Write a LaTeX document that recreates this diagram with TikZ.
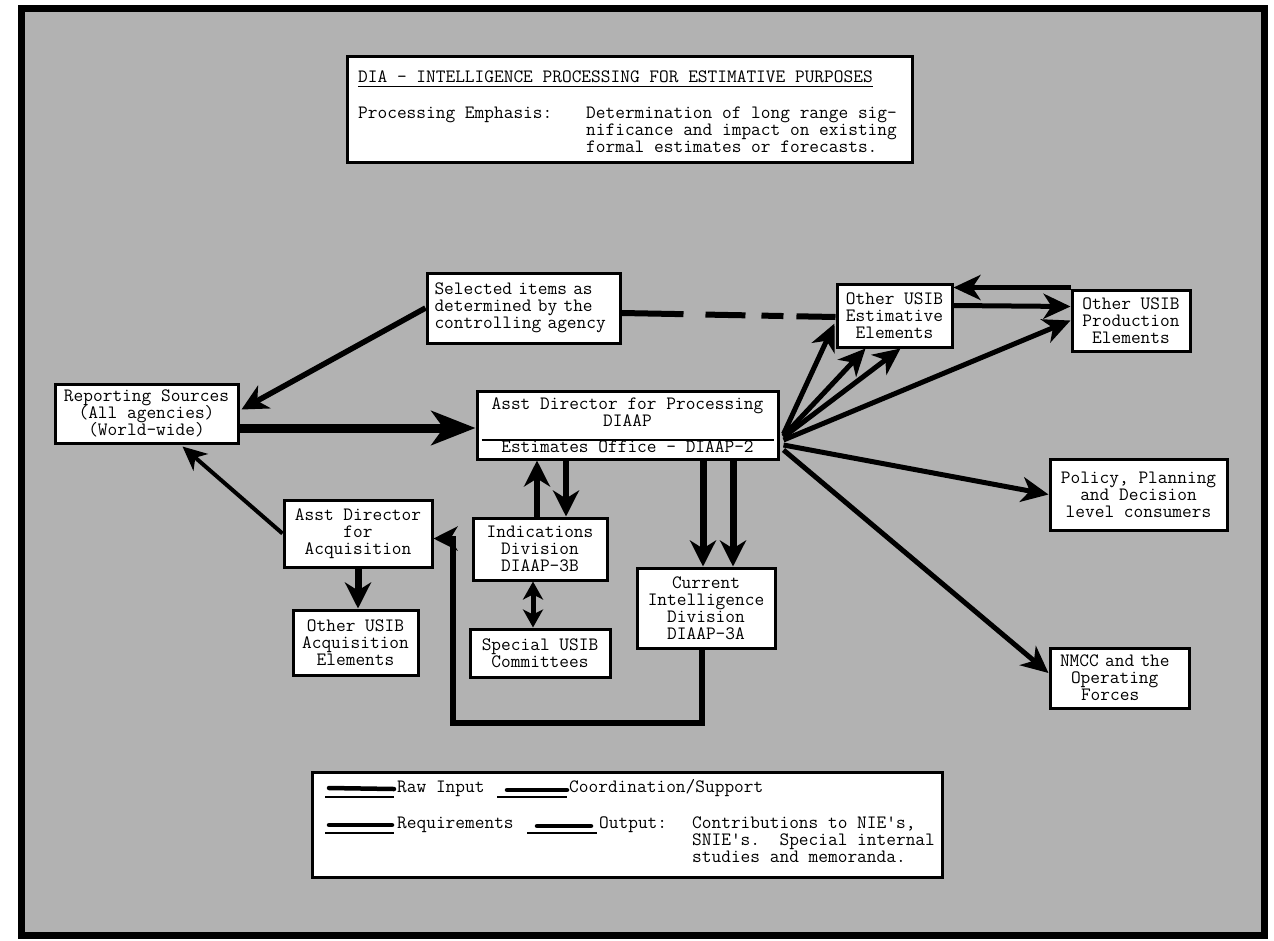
\documentclass[tikz,border=0pt]{standalone}
\usetikzlibrary{arrows.meta,calc}
\newcommand\tyfont{\fontsize{18.85}{17}\selectfont\ttfamily}
\lineskiplimit=-50pt
\definecolor{bggray}{RGB}{178,178,178}
\tikzset{
  bx/.style={draw=black, line width=3pt, fill=white, inner sep=0pt, align=center, font=\tyfont},
  tx/.style={inner sep=0pt, font=\tyfont, anchor=base west},
  conn/.style={draw=black, line width=6pt, arrows={-Stealth[length=26pt,width=26pt,inset=8pt]}},
  rawline/.style={draw=black, line width=9pt, arrows={-Stealth[length=44pt,width=34pt,inset=12pt]}},
  thinline/.style={draw=black, line width=4pt, arrows={-Stealth[length=24pt,width=22pt,inset=7pt]}},
  fanline/.style={draw=black, line width=5pt, arrows={-Stealth[length=27pt,width=25pt,inset=8pt]}},
  dashline/.style={draw=black, line width=6pt, dash pattern=on 62pt off 22pt on 40pt off 16pt on 22pt off 13pt on 43pt off 100pt},
  twoway/.style={draw=black, line width=5pt, arrows={Stealth[length=18pt,width=20pt,inset=5pt]-Stealth[length=18pt,width=20pt,inset=5pt]}},
  routeline/.style={draw=black, line width=6pt, arrows={-Stealth[length=24pt,width=24pt,inset=7pt]}},
  keythick/.style={draw=black, line width=4.5pt, line cap=round},
  keyrule/.style={draw=black, line width=1.2pt},
}
\begin{document}
\begin{tikzpicture}[x=1pt,y=-1pt]
\useasboundingbox (0,0) rectangle (1274,940);
\fill[white] (0,0) rectangle (1274,940);
\fill[bggray] (21,8) rectangle (1264,935);
\draw[line width=7pt] (21,8) rectangle (1264,935);

% title block
\node[bx, minimum width=565pt, minimum height=106pt] (ttl) at (629.5,109) {};
\node[tx] (ttltext) at (358,82) {DIA - INTELLIGENCE PROCESSING FOR ESTIMATIVE PURPOSES};
\draw[keyrule] ($(ttltext.base west)+(0,4.5)$) -- ($(ttltext.base east)+(0,4.5)$);
\node[tx] (emph) at (358,118.5) {Processing Emphasis:};
\node[tx] (e1) at (586,118.5) {Determination of long range sig-};
\node[tx] (e2) at (586,135.5) {nificance and impact on existing};
\node[tx] (e3) at (586,152.5) {formal estimates or forecasts.};

% boxes
\node[bx, minimum width=183pt, minimum height=59pt] (rep) at (146.5,413.5) {Reporting Sources\\(All agencies)\\(World-wide)};
\node[bx, align=left, text width=178pt, minimum width=193pt, minimum height=70pt] (sel) at (523.5,308) {Selected items as\\determined by the\\controlling agency};
\node[bx, minimum width=301pt, minimum height=68pt] (asst) at (627.5,425) {Asst Director for Processing\\DIAAP\\[9pt]Estimates Office - DIAAP-2};
\draw[keyrule] ($(asst.west)+(6,15)$) -- ($(asst.east)+(-6,15)$);
\node[bx, minimum width=115pt, minimum height=63pt] (est) at (894.5,315.5) {Other USIB\\Estimative\\Elements};
\node[bx, minimum width=118pt, minimum height=61pt] (prod) at (1131,320.5) {Other USIB\\Production\\Elements};
\node[bx, minimum width=177pt, minimum height=71pt] (pol) at (1138.5,494.5) {Policy, Planning\\and Decision\\level consumers};
\node[bx, align=left, text width=119pt, minimum width=139pt, minimum height=60pt] (nmcc) at (1119.5,678) {NMCC and the\\\hspace*{11pt}Operating\\\hspace*{21pt}Forces};
\node[bx, minimum width=148pt, minimum height=67pt] (acq) at (358,533.5) {Asst Director\\for\\Acquisition};
\node[bx, minimum width=125pt, minimum height=65pt] (oacq) at (355.5,642.5) {Other USIB\\Acquisition\\Elements};
\node[bx, minimum width=134pt, minimum height=62pt] (ind) at (540,549) {Indications\\Division\\DIAAP-3B};
\node[bx, minimum width=140pt, minimum height=48pt] (spec) at (540,653) {Special USIB\\Committees};
\node[bx, minimum width=138pt, minimum height=80pt] (cur) at (706,608) {Current\\Intelligence\\Division\\DIAAP-3A};

% legend
\node[bx, minimum width=630pt, minimum height=105pt] (leg) at (627,824.5) {};
\node[tx] (lraw) at (397,792) {Raw Input};
\node[tx] (lcoord) at (569,792) {Coordination/Support};
\node[tx] (lreq) at (397,828) {Requirements};
\node[tx] (lout) at (599,828) {Output:};
\node[tx] (lo1) at (692,828) {Contributions to NIE's,};
\node[tx] (lo2) at (692,845) {SNIE's.\ \ Special internal};
\node[tx] (lo3) at (692,862) {studies and memoranda.};
\draw[keyrule] (325,797) -- (394,797);
\draw[keythick] (329,788) -- (394,789);
\draw[keyrule] (497,797) -- (567,797);
\draw[keythick] (507,790) -- (567,790);
\draw[keyrule] (325,833) -- (394,833);
\draw[keythick] (329,825) -- (392,825);
\draw[keyrule] (527,833) -- (597,833);
\draw[keythick] (537,826) -- (591,826);

% connectors
\draw[rawline] ($(rep.east)+(0,14.5)$) coordinate (r1) -- (r1 -| asst.west);
\draw[conn, line width=5.5pt] (sel.west) -- ($(rep.east)+(2,-4)$);
\draw[dashline] ($(sel.east)+(0,5)$) -- ($(est.west)+(0,1.5)$);
\draw[thinline] (acq.west) -- ($(rep.south)+(36,2)$);
\draw[conn, line width=7pt] (acq.south) -- (acq.south |- oacq.north);
\draw[conn] ($(ind.north)+(-3,0)$) coordinate (u1) -- (u1 |- asst.south);
\coordinate (u2) at ($(ind.north)+(26,0)$);
\draw[conn] (u2 |- asst.south) -- (u2);
\draw[twoway] ($(ind.south)+(-7,0)$) coordinate (v1) -- (v1 |- spec.north);
\coordinate (w1) at ($(cur.north)+(-3,0)$);
\coordinate (w2) at ($(cur.north)+(27,0)$);
\draw[conn, line width=7pt] (w1 |- asst.south) -- (w1);
\draw[conn, line width=7pt] (w2 |- asst.south) -- (w2);
\coordinate (c1) at (453,723);
\draw[routeline] ($(cur.south)+(-4,0)$) |- (c1) |- ($(acq.east)+(0,5)$);

\coordinate (hub) at ($(asst.east)+(4,12)$);
\draw[fanline] ($(hub)+(0,-3)$) -- ($(est.south west)+(-1,-25)$);
\draw[fanline] ($(hub)+(0,-1)$) -- ($(est.south west)+(30,0)$);
\draw[fanline] (hub) -- ($(est.south)+(6,0)$);
\draw[fanline] ($(hub)+(0,3)$) -- (prod.west);
\draw[fanline] ($(hub)+(0,8)$) -- (pol.west);
\draw[fanline] ($(hub)+(0,13)$) -- ($(nmcc.west)+(0,-5)$);
\draw[fanline] ($(est.east)+(0,-10)$) -- ($(prod.west)+(0,-14)$);
\draw[fanline] ($(prod.north west)+(0,-1)$) coordinate (p1) -- (p1 -| est.east);
\end{tikzpicture}
\end{document}
